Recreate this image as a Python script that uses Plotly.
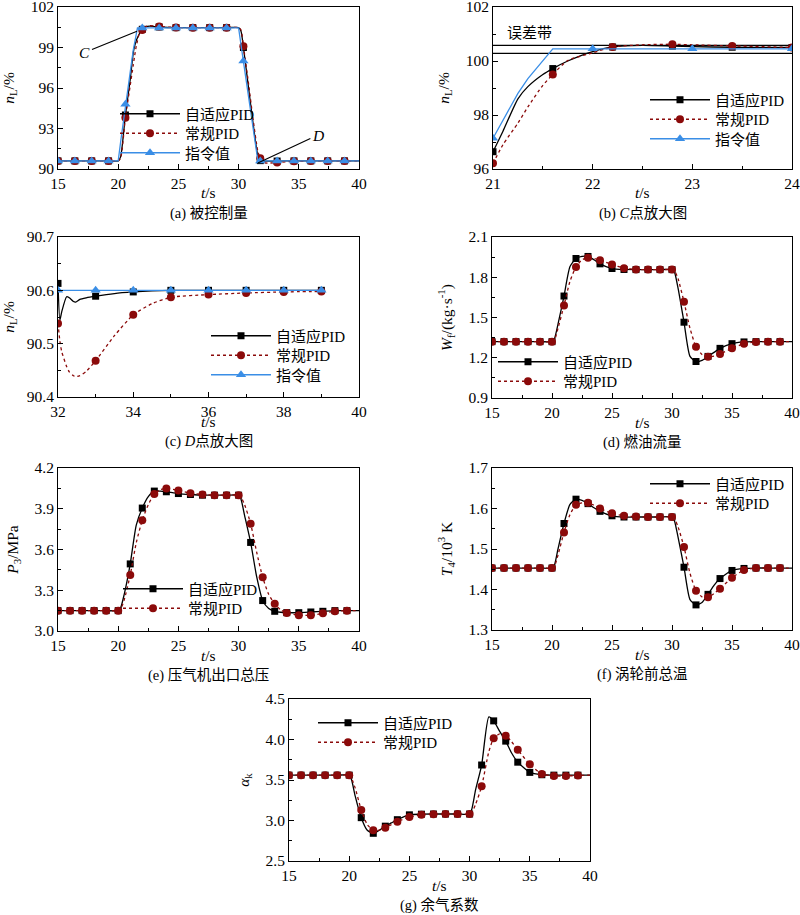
import plotly.graph_objects as go

# ---------------- data ----------------
LABEL_ADA = "自适应PID"
LABEL_PID = "常规PID"
LABEL_CMD = "指令值"

# (a) controlled variable n_L
A_t = [15, 16.4, 17.8, 19.2, 20, 20.2, 20.6, 21, 21.25, 21.35, 21.5, 21.6, 21.75, 22, 22.3, 22.6, 23, 23.4,
       24.8, 26.2, 27.6, 29, 30, 30.2, 30.4, 30.8, 31.2, 31.6, 31.8, 32, 32.2, 32.5, 33.2, 34.6, 36, 37.4, 38.8, 40]
A_ada = [90.6, 90.6, 90.6, 90.6, 90.6, 90.9, 94.0, 96.64, 98.6, 99.05, 99.5, 99.72, 100.0, 100.35, 100.55, 100.58, 100.55, 100.52,
         100.47, 100.47, 100.47, 100.47, 100.47, 100.2, 99.0, 96.2, 93.4, 91.0, 90.62, 90.61, 90.58, 90.58, 90.59, 90.6, 90.6, 90.6, 90.6, 90.6]
A_pid = [90.6, 90.6, 90.6, 90.6, 90.6, 90.8, 93.8, 96.21, 97.7, 98.3, 99.1, 99.5, 100.02, 100.3, 100.55, 100.61, 100.6, 100.56,
         100.48, 100.47, 100.47, 100.47, 100.47, 100.3, 99.1, 96.5, 93.7, 91.3, 90.8, 90.54, 90.46, 90.44, 90.48, 90.575, 90.592, 90.596, 90.598, 90.6]
A_cmd = [90.6, 90.6, 90.6, 90.6, 90.6, 92.0, 94.8, 97.2, 98.8, 99.3, 99.95, 100.45, 100.45, 100.45, 100.45, 100.45, 100.45, 100.45,
         100.45, 100.45, 100.45, 100.45, 100.45, 99.2, 98.0, 95.5, 93.1, 90.6, 90.6, 90.6, 90.6, 90.6, 90.6, 90.6, 90.6, 90.6, 90.6, 90.6]
A_mk = [15, 16.4, 17.8, 19.2, 20.6, 22, 23.4, 24.8, 26.2, 27.6, 29, 30.4, 31.8, 33.2, 34.6, 36, 37.4, 38.8]

# (b) zoom at point C
B_t = [21, 21.1, 21.25, 21.35, 21.5, 21.6, 21.75, 22, 22.2, 22.5, 22.8, 23, 23.4, 24]
B_ada = [96.64, 97.4, 98.6, 99.05, 99.5, 99.72, 100.0, 100.35, 100.52, 100.58, 100.55, 100.53, 100.51, 100.5]
B_pid = [96.21, 96.9, 97.7, 98.3, 99.1, 99.5, 100.02, 100.3, 100.52, 100.6, 100.62, 100.6, 100.56, 100.5]
B_cmd = [97.14, 97.8, 98.8, 99.35, 100.0, 100.45, 100.45, 100.45, 100.45, 100.45, 100.45, 100.45, 100.45, 100.45]
B_mk = [21, 21.6, 22.2, 22.8, 23.4, 24]
B_mk_cmd = [21, 22, 23, 24]
B_band = [100.28, 100.58]

# (c) zoom at point D
C_t = [32, 32.05, 32.1, 32.23, 32.3, 32.41, 32.47, 32.58, 32.75, 33, 33.5, 34, 34.5, 35, 36, 37, 38, 39]
C_ada = [90.613, 90.544, 90.56, 90.588, 90.586, 90.579, 90.578, 90.583, 90.586, 90.589, 90.594, 90.597, 90.599, 90.6,
         90.6, 90.6, 90.6, 90.6]
C_pid = [90.538, 90.505, 90.485, 90.457, 90.447, 90.44, 90.438, 90.44, 90.448, 90.468, 90.515, 90.554, 90.575, 90.587,
         90.592, 90.595, 90.597, 90.598]
C_cmd = [90.6] * 18
C_mk = [32, 33, 34, 35, 36, 37, 38, 39]

# common time base for (d)-(f)
T = [15, 16, 17, 18, 19, 20, 20.2, 20.5, 21, 21.5, 22, 22.5, 23, 23.5, 24, 25, 26, 27, 28, 29, 30, 30.2, 30.5,
     31, 31.5, 32, 32.5, 33, 33.5, 34, 35, 36, 37, 38, 39, 40]
T_mk = list(range(15, 40))

# (d) fuel flow W_f
D_ada = [1.32] * 6 + [1.34, 1.45, 1.66, 1.88, 1.94, 1.955, 1.955, 1.93, 1.90, 1.865, 1.858, 1.857, 1.857, 1.857, 1.857,
                      1.84, 1.72, 1.465, 1.21, 1.172, 1.18, 1.21, 1.24, 1.27, 1.305, 1.318, 1.32, 1.32, 1.32, 1.32]
D_pid = [1.32] * 6 + [1.33, 1.42, 1.59, 1.77, 1.877, 1.93, 1.946, 1.94, 1.927, 1.895, 1.868, 1.858, 1.857, 1.857, 1.857,
                      1.85, 1.79, 1.617, 1.42, 1.282, 1.225, 1.208, 1.212, 1.228, 1.27, 1.305, 1.318, 1.32, 1.32, 1.32]

# (e) compressor outlet pressure P3
E_ada = [3.15] * 6 + [3.17, 3.27, 3.494, 3.78, 3.905, 3.99, 4.03, 4.03, 4.025, 4.012, 4.005, 4.0, 4.0, 4.0, 4.0,
                      3.97, 3.85, 3.652, 3.4, 3.224, 3.165, 3.145, 3.138, 3.135, 3.135, 3.14, 3.145, 3.15, 3.15, 3.15]
E_pid = [3.15] * 6 + [3.16, 3.23, 3.413, 3.65, 3.816, 3.93, 4.008, 4.04, 4.05, 4.035, 4.015, 4.005, 4.0, 4.0, 4.0,
                      3.985, 3.93, 3.79, 3.58, 3.396, 3.27, 3.2, 3.155, 3.133, 3.116, 3.116, 3.13, 3.145, 3.15, 3.15]

# (f) turbine inlet temperature T4
F_ada = [1.453] * 6 + [1.46, 1.5, 1.563, 1.61, 1.623, 1.62, 1.612, 1.602, 1.593, 1.582, 1.579, 1.579, 1.579, 1.579, 1.579,
                       1.57, 1.53, 1.455, 1.375, 1.362, 1.368, 1.388, 1.41, 1.427, 1.447, 1.452, 1.453, 1.453, 1.453, 1.453]
F_pid = [1.453] * 6 + [1.457, 1.485, 1.541, 1.585, 1.609, 1.614, 1.614, 1.608, 1.6, 1.588, 1.582, 1.58, 1.579, 1.579, 1.579,
                       1.575, 1.555, 1.505, 1.44, 1.397, 1.382, 1.381, 1.39, 1.402, 1.429, 1.448, 1.453, 1.453, 1.453, 1.453]

# (g) excess air coefficient
G_t = [15, 16, 17, 18, 19, 20, 20.2, 20.5, 21, 21.5, 22, 22.5, 23, 23.5, 24, 25, 26, 27, 28, 29, 30, 30.2, 30.5,
       31, 31.6, 32, 32.5, 33, 33.5, 34, 35, 36, 37, 38, 39, 40]
G_ada = [3.56] * 6 + [3.5, 3.3, 3.035, 2.88, 2.842, 2.88, 2.93, 2.97, 3.01, 3.07, 3.078, 3.08, 3.08, 3.08, 3.08,
                      3.15, 3.38, 3.685, 4.28, 4.23, 4.1, 3.98, 3.83, 3.72, 3.594, 3.565, 3.56, 3.56, 3.56, 3.56]
G_pid = [3.56] * 6 + [3.52, 3.4, 3.13, 2.95, 2.879, 2.88, 2.912, 2.95, 2.986, 3.043, 3.07, 3.078, 3.08, 3.08, 3.08,
                      3.1, 3.2, 3.422, 3.85, 4.014, 4.07, 4.047, 3.97, 3.874, 3.693, 3.575, 3.55, 3.55, 3.555, 3.56]

CAPTIONS = ["(a) 被控制量", "(b) <i>C</i>点放大图", "(c) <i>D</i>点放大图", "(d) 燃油流量",
            "(e) 压气机出口总压", "(f) 涡轮前总温", "(g) 余气系数"]
YTITLES = ["<i>n</i><sub>L</sub>/%", "<i>n</i><sub>L</sub>/%", "<i>n</i><sub>L</sub>/%",
           "<i>W</i><sub>f</sub>/(kg·s<sup>-1</sup>)", "<i>P</i><sub>3</sub>/MPa",
           "<i>T</i><sub>4</sub>/10<sup>3</sup> K", "<i>α</i><sub>k</sub>"]
XTITLE = "<i>t</i>/s"

# ---------------- styling ----------------
W, H = 800, 915
FONT = "Liberation Serif, Noto Sans CJK SC, serif"
BLACK = "#000000"
RED = "#8B0A0A"
BLUE = "#3A8EE6"

STY = {
    "ada": dict(line=dict(color=BLACK, width=1.3), marker=dict(symbol="square", size=7, color=BLACK)),
    "pid": dict(line=dict(color=RED, width=1.3, dash="dot"), marker=dict(symbol="circle", size=8, color=RED)),
    "cmd": dict(line=dict(color=BLUE, width=1.3), marker=dict(symbol="triangle-up", size=9, color=BLUE)),
}
NAMES = {"ada": LABEL_ADA, "pid": LABEL_PID, "cmd": LABEL_CMD}

# panel geometry in pixels: left, right, top, bottom ; legend: text start x, first row y
PANELS = [
    dict(box=(58, 359, 7, 169), xr=[15, 40], yr=[90, 102], xd=5, yd=3, leg=(185, 114)),
    dict(box=(493, 792, 7, 169), xr=[21, 24], yr=[96, 102], xd=1, yd=2, leg=(715, 100)),
    dict(box=(58, 359, 237, 397), xr=[32, 40], yr=[90.4, 90.7], xd=2, yd=0.1, leg=(276, 336)),
    dict(box=(492, 792, 237, 398), xr=[15, 40], yr=[0.9, 2.1], xd=5, yd=0.3, leg=(563, 362)),
    dict(box=(58, 359, 468, 631), xr=[15, 40], yr=[3.0, 4.2], xd=5, yd=0.3, leg=(188, 589)),
    dict(box=(492, 792, 468, 630), xr=[15, 40], yr=[1.3, 1.7], xd=5, yd=0.1, leg=(715, 484)),
    dict(box=(289, 590, 699, 861), xr=[15, 40], yr=[2.5, 4.5], xd=5, yd=0.5, leg=(383, 723)),
]
ROW_GAP = 19.5
ITEM_W = 60
TEXT_OFFSET = ITEM_W + 10   # legend box left edge -> legend text start (px)

fig = go.Figure()
legend_layouts = {}
leg_counter = [0]


def ax_id(i):
    return ("x" if i == 0 else f"x{i+1}", "y" if i == 0 else f"y{i+1}")


def add_series(i, key, t, y, mk_t, smooth=True):
    xa, ya = ax_id(i)
    st = STY[key]
    shape = "spline" if (smooth and key != "cmd") else "linear"
    fig.add_trace(go.Scatter(x=t, y=y, mode="lines", line=dict(**st["line"], shape=shape, smoothing=0.6),
                             xaxis=xa, yaxis=ya, showlegend=False, hoverinfo="skip"))
    mx = [tt for tt in t if any(abs(tt - m) < 1e-9 for m in mk_t)]
    my = [yy for tt, yy in zip(t, y) if any(abs(tt - m) < 1e-9 for m in mk_t)]
    fig.add_trace(go.Scatter(x=mx, y=my, mode="markers", marker=st["marker"],
                             xaxis=xa, yaxis=ya, showlegend=False, hoverinfo="skip"))


def add_legend(i, keys):
    xa, ya = ax_id(i)
    lx, ly = PANELS[i]["leg"]
    for j, k in enumerate(keys):
        leg_counter[0] += 1
        n = leg_counter[0]
        lg = "legend" if n == 1 else f"legend{n}"
        st = STY[k]
        fig.add_trace(go.Scatter(x=[None], y=[None], mode="lines+markers", name=NAMES[k],
                                 line=st["line"], marker=st["marker"], xaxis=xa, yaxis=ya,
                                 legend=lg, showlegend=True))
        legend_layouts[lg] = dict(x=(lx - TEXT_OFFSET) / W, y=1 - (ly + j * ROW_GAP) / H,
                                  xanchor="left", yanchor="middle", bgcolor="rgba(0,0,0,0)",
                                  borderwidth=0, font=dict(size=15, family=FONT), itemwidth=ITEM_W)


# (a)
add_series(0, "ada", A_t, A_ada, A_mk)
add_series(0, "pid", A_t, A_pid, A_mk)
add_series(0, "cmd", A_t, A_cmd, A_mk)
add_legend(0, ["ada", "pid", "cmd"])
# (b)
for yb in B_band:
    fig.add_trace(go.Scatter(x=[21, 24], y=[yb, yb], mode="lines", line=dict(color=BLACK, width=1.2),
                             xaxis="x2", yaxis="y2", showlegend=False, hoverinfo="skip"))
add_series(1, "ada", B_t, B_ada, B_mk)
add_series(1, "pid", B_t, B_pid, B_mk)
add_series(1, "cmd", B_t, B_cmd, B_mk_cmd)
add_legend(1, ["ada", "pid", "cmd"])
# (c)
add_series(2, "ada", C_t, C_ada, C_mk)
add_series(2, "pid", C_t, C_pid, C_mk)
add_series(2, "cmd", C_t, C_cmd, C_mk)
add_legend(2, ["ada", "pid", "cmd"])
# (d)-(f)
for i, (ya_, yp_) in zip([3, 4, 5], [(D_ada, D_pid), (E_ada, E_pid), (F_ada, F_pid)]):
    add_series(i, "ada", T, ya_, T_mk)
    add_series(i, "pid", T, yp_, T_mk)
    add_legend(i, ["ada", "pid"])
# (g)
add_series(6, "ada", G_t, G_ada, T_mk)
add_series(6, "pid", G_t, G_pid, T_mk)
add_legend(6, ["ada", "pid"])

layout = dict(
    width=W, height=H, margin=dict(l=0, r=0, t=0, b=0, autoexpand=False),
    paper_bgcolor="white", plot_bgcolor="white",
    font=dict(family=FONT, size=14, color="black"),
)
layout.update(legend_layouts)

annotations = []
for i, p in enumerate(PANELS):
    l, r, t, b = p["box"]
    xk = "xaxis" if i == 0 else f"xaxis{i+1}"
    yk = "yaxis" if i == 0 else f"yaxis{i+1}"
    xa, ya = ax_id(i)
    common = dict(showline=True, linecolor="black", linewidth=1, mirror=True, ticks="inside", ticklen=5,
                  tickcolor="black", showgrid=False, zeroline=False, automargin=False,
                  ticklabeloverflow="allow", tickfont=dict(size=15.5, family=FONT))
    layout[xk] = dict(common, domain=[l / W, r / W], range=p["xr"], dtick=p["xd"], tick0=p["xr"][0],
                      anchor=ya, minor=dict(ticks="inside", ticklen=3, dtick=p["xd"] / 2, tickcolor="black"))
    ytf = ".1f" if p["yd"] < 1 else "d"
    layout[yk] = dict(common, domain=[1 - b / H, 1 - t / H], range=p["yr"], dtick=p["yd"], tick0=p["yr"][0],
                      anchor=xa, tickformat=ytf,
                      minor=dict(ticks="inside", ticklen=3, dtick=p["yd"] / 2, tickcolor="black"),
                      title=dict(text=YTITLES[i], font=dict(size=15.5, family=FONT), standoff=12))
    # x-axis title (t/s) and panel caption
    annotations.append(dict(text=XTITLE, xref="paper", yref="paper", x=(l + r) / 2 / W,
                            y=1 - (b + 24) / H, xanchor="center", yanchor="middle", showarrow=False,
                            font=dict(size=15.5, family=FONT)))
    annotations.append(dict(text=CAPTIONS[i], xref="paper", yref="paper", x=(l + r) / 2 / W,
                            y=1 - (b + 44) / H, xanchor="center", yanchor="middle", showarrow=False,
                            font=dict(size=14.5, family=FONT)))

# C / D call-outs in (a), 误差带 in (b)
annotations += [
    dict(text="<i>C</i>", x=21.56, y=100.2, xref="x", yref="y", showarrow=True, arrowhead=0, arrowwidth=1.2,
         arrowcolor="black", ax=-52, ay=21, font=dict(size=15.5, family=FONT)),
    dict(text="<i>D</i>", x=31.6, y=90.44, xref="x", yref="y", showarrow=True, arrowhead=0, arrowwidth=1.2,
         arrowcolor="black", ax=60, ay=-28, font=dict(size=15.5, family=FONT)),
    dict(text="误差带", x=21.12, y=101.05, xref="x2", yref="y2", xanchor="left", yanchor="middle",
         showarrow=False, font=dict(size=15, family=FONT)),
]
layout["annotations"] = annotations
fig.update_layout(**layout)
fig.write_html("out.html", config={"displayModeBar": False},
               post_script="document.body.style.margin='0';document.body.style.overflow='hidden';")
